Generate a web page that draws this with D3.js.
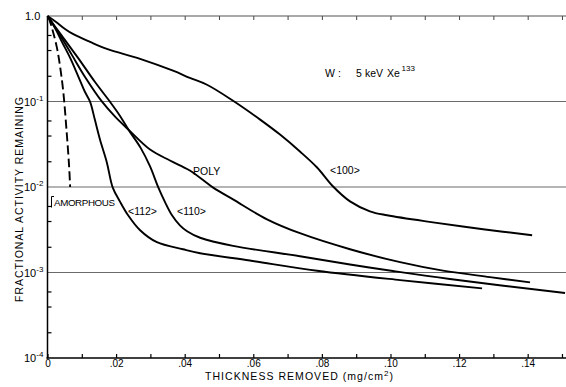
<!DOCTYPE html>
<html><head><meta charset="utf-8">
<script src="https://cdn.jsdelivr.net/npm/d3@7"></script>
<style>
html,body{margin:0;padding:0;background:#fff;}
svg{display:block;font-family:"Liberation Sans",Arial,sans-serif;}
</style></head>
<body><svg id="c" width="566" height="387"></svg>
<script>
// ---- data ----
const amorphousX = [0.0003, 0.0013, 0.0027, 0.0036, 0.0046, 0.0056, 0.0063, 0.0066];
const amorphousY = [0.97, 0.725, 0.435, 0.268, 0.130, 0.0433, 0.0174, 0.0100];

const s100X = [0, 0.0025, 0.0051, 0.0074, 0.0124, 0.0173, 0.0270, 0.0366, 0.0415, 0.0465, 0.0541, 0.0620, 0.0678, 0.0736, 0.0786, 0.0832, 0.0882, 0.0940, 0.0990, 0.1124, 0.1270, 0.1413];
const s100Y = [1.0, 0.851, 0.706, 0.617, 0.498, 0.412, 0.315, 0.229, 0.189, 0.157, 0.102, 0.0614, 0.0410, 0.0260, 0.0169, 0.0102, 0.00679, 0.00520, 0.00467, 0.00386, 0.00321, 0.00273];

const s112X = [0, 0.0022, 0.0042, 0.0066, 0.0089, 0.0109, 0.0124, 0.0138, 0.0153, 0.0173, 0.0190, 0.0211, 0.0235, 0.0270, 0.0319, 0.0395, 0.0445, 0.0590, 0.0786, 0.1028, 0.1267];
const s112Y = [1.0, 0.724, 0.498, 0.324, 0.200, 0.130, 0.0995, 0.0614, 0.0359, 0.0194, 0.0099, 0.00679, 0.00467, 0.00312, 0.00226, 0.00187, 0.00168, 0.00138, 0.00105, 0.000815, 0.000653];

const s110X = [0, 0.0042, 0.0089, 0.0138, 0.0182, 0.0211, 0.0236, 0.0272, 0.0299, 0.0323, 0.0343, 0.0363, 0.0386, 0.0407, 0.0445, 0.0541, 0.0736, 0.0882, 0.1007, 0.1173, 0.1509];
const s110Y = [1.0, 0.585, 0.324, 0.170, 0.0995, 0.0683, 0.0469, 0.0285, 0.0174, 0.0099, 0.00662, 0.00467, 0.00356, 0.00304, 0.00255, 0.00205, 0.00155, 0.00124, 0.00104, 0.000838, 0.000575];

const polyX = [0, 0.0036, 0.0071, 0.0109, 0.0159, 0.0197, 0.0236, 0.0299, 0.0357, 0.0415, 0.0482, 0.0541, 0.0640, 0.0736, 0.0882, 0.1028, 0.1153, 0.1290, 0.1407];
const polyY = [1.0, 0.600, 0.351, 0.195, 0.0995, 0.0665, 0.0469, 0.0274, 0.0204, 0.0156, 0.0099, 0.00716, 0.00419, 0.00288, 0.00187, 0.00132, 0.00105, 0.000883, 0.000767];

const xMajorTicks = [0, 0.02, 0.04, 0.06, 0.08, 0.10, 0.12, 0.14];
const xMajorLabels = ["0", ".02", ".04", ".06", ".08", ".10", ".12", ".14"];
const xMinorTicks = [0.01, 0.03, 0.05, 0.07, 0.09, 0.11, 0.13, 0.15];
const yDecades = [1, 0.1, 0.01, 0.001, 0.0001];
const yDecadeBase = ["1.0", "10", "10", "10", "10"];
const yDecadeExp = ["", "-1", "-2", "-3", "-4"];
const yMinorTicks = [0.6, 0.4, 0.2, 0.06, 0.04, 0.02, 0.006, 0.004, 0.002, 0.0006, 0.0004, 0.0002];
const gridValues = [0.1, 0.01, 0.001];

// ---- drawing ----
const svg = d3.select("#c");
const x = d3.scaleLinear().domain([0, 0.151]).range([47.5, 565.4]);
const y = d3.scaleLog().domain([0.0001, 1]).range([358, 16]);
const X0 = x(0), X1 = 566;

// grid lines
svg.append("g").selectAll("line").data(gridValues).join("line")
  .attr("x1", X0).attr("x2", X1).attr("y1", d => y(d)).attr("y2", d => y(d))
  .attr("stroke", "#6a6a6a").attr("stroke-width", 1.1);

// top border with downward ticks
const topAxis = d3.axisTop(x).tickValues(xMajorTicks.concat(xMinorTicks).filter(v => v > 0)).tickSize(-4).tickFormat("");
const gt = svg.append("g").attr("transform", `translate(0,${y(1)})`).call(topAxis);
gt.select(".domain").remove();
gt.selectAll("line").attr("stroke", "#444").attr("stroke-width", 1);
svg.append("line").attr("x1", X0).attr("x2", X1).attr("y1", y(1)).attr("y2", y(1)).attr("stroke", "#555").attr("stroke-width", 1.1);

// bottom axis
const bottomAxis = d3.axisBottom(x).tickValues(xMajorTicks.concat(xMinorTicks)).tickSize(-4).tickPadding(1.5)
  .tickFormat(d => { const i = xMajorTicks.findIndex(v => Math.abs(v - d) < 1e-9); return i >= 0 ? xMajorLabels[i] : ""; });
const gb = svg.append("g").attr("transform", `translate(0,${y(0.0001)})`).call(bottomAxis);
gb.select(".domain").remove();
gb.selectAll("line").attr("stroke", "#000").attr("stroke-width", 1.2);
gb.selectAll("text").attr("font-size", 10).attr("fill", "#000").attr("font-family", "'Liberation Sans',Arial,sans-serif");
svg.append("line").attr("x1", X0 - 1).attr("x2", X1).attr("y1", y(0.0001)).attr("y2", y(0.0001)).attr("stroke", "#000").attr("stroke-width", 1.5);

// left axis
const leftAxis = d3.axisLeft(y).tickValues(yMinorTicks).tickSize(-4).tickFormat("");
const gl = svg.append("g").attr("transform", `translate(${X0},0)`).call(leftAxis);
gl.select(".domain").remove();
gl.selectAll("line").attr("stroke", "#000").attr("stroke-width", 1.2);
svg.append("line").attr("x1", X0).attr("x2", X0).attr("y1", y(1)).attr("y2", y(0.0001) + 0.75).attr("stroke", "#000").attr("stroke-width", 1.5);

// left decade labels
const lab = svg.append("g").attr("font-size", 11).attr("fill", "#000");
yDecades.forEach((v, i) => {
  const t = lab.append("text").attr("x", i === 0 ? 25 : 24).attr("y", y(v) + 4);
  t.append("tspan").text(yDecadeBase[i]);
  if (yDecadeExp[i]) t.append("tspan").attr("dy", -5).attr("font-size", 8).text(yDecadeExp[i]);
});

// axis titles
svg.append("text").attr("x", 299).attr("y", 380).attr("text-anchor", "middle")
  .attr("font-size", 10.5).attr("textLength", 188).attr("lengthAdjust", "spacing")
  .html('THICKNESS REMOVED (mg/cm<tspan dy="-4" font-size="8">2</tspan><tspan dy="4">)</tspan>');
svg.append("text").attr("transform", "translate(23,199.5) rotate(-90)").attr("text-anchor", "middle")
  .attr("font-size", 10.5).attr("textLength", 205).attr("lengthAdjust", "spacing")
  .text("FRACTIONAL ACTIVITY REMAINING");

// curves
const line = d3.line().x(d => x(d[0])).y(d => y(d[1])).curve(d3.curveCatmullRom.alpha(0.5));
const series = [
  {xs: s100X, ys: s100Y, dash: null},
  {xs: s112X, ys: s112Y, dash: null},
  {xs: s110X, ys: s110Y, dash: null},
  {xs: polyX, ys: polyY, dash: null},
  {xs: amorphousX, ys: amorphousY, dash: "9,4"}
];
svg.append("g").selectAll("path").data(series).join("path")
  .attr("d", s => line(s.xs.map((v, i) => [v, s.ys[i]])))
  .attr("fill", "none").attr("stroke", "#000").attr("stroke-width", 1.9)
  .attr("stroke-dasharray", s => s.dash).attr("stroke-linejoin", "round");

// annotations
const ann = svg.append("g").attr("font-size", 10.5).attr("fill", "#000");
const w = ann.append("text").attr("y", 77).attr("font-size", 10.5);
w.append("tspan").attr("x", 325).text("W");
w.append("tspan").attr("x", 338).text(":");
w.append("tspan").attr("x", 356).text("5");
w.append("tspan").attr("x", 365).text("keV");
w.append("tspan").attr("x", 387).text("Xe");
w.append("tspan").attr("x", 401.5).attr("dy", -6).attr("font-size", 8).text("133");
ann.append("text").attr("x", 193).attr("y", 175).text("POLY");
ann.append("text").attr("x", 330).attr("y", 173.5).text("<100>");
ann.append("text").attr("x", 128).attr("y", 215).text("<112>");
ann.append("text").attr("x", 177).attr("y", 215).text("<110>");
ann.append("text").attr("x", 54).attr("y", 206).attr("font-size", 9.8).attr("textLength", 61).attr("lengthAdjust", "spacing").text("AMORPHOUS");
svg.append("path").attr("d", "M54,196.5 H51.5 V207.5").attr("fill", "none").attr("stroke", "#000").attr("stroke-width", 1);
</script>
</body></html>
